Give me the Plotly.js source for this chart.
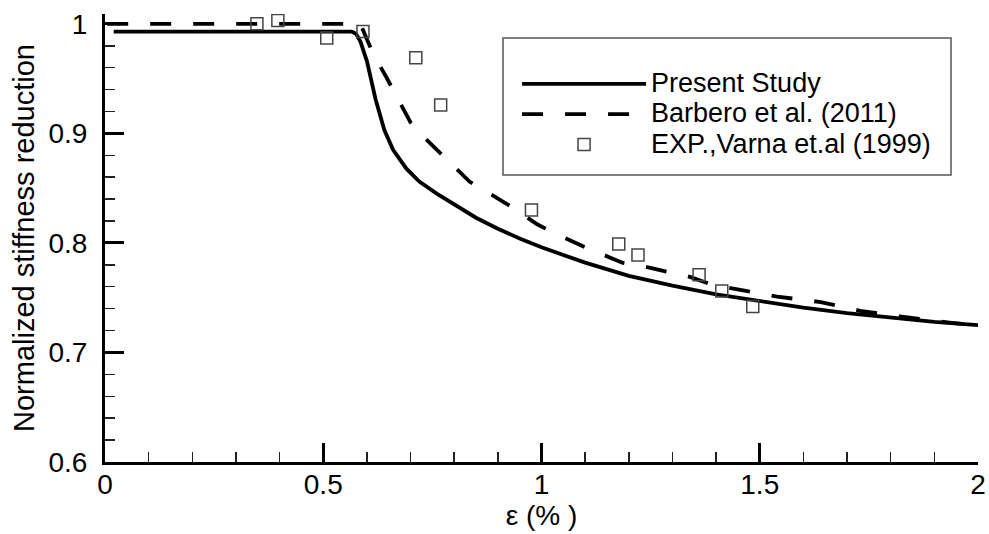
<!DOCTYPE html>
<html>
<head>
<meta charset="utf-8">
<script src="https://cdn.plot.ly/plotly-3.0.1.min.js"></script>
<style>
html,body{margin:0;padding:0;background:#fff;}
#chart{width:989px;height:534px;}
</style>
</head>
<body>
<div id="chart"></div>
<script>
// Present Study (solid)
const presentX = [0.02, 0.1, 0.2, 0.3, 0.4, 0.5, 0.565, 0.575, 0.585, 0.60, 0.62, 0.64, 0.66, 0.69, 0.72, 0.76, 0.80, 0.85, 0.90, 0.95, 1.0, 1.1, 1.2, 1.3, 1.4, 1.5, 1.6, 1.7, 1.8, 1.9, 2.0];
const presentY = [0.993, 0.993, 0.993, 0.993, 0.993, 0.993, 0.993, 0.991, 0.984, 0.966, 0.931, 0.903, 0.885, 0.868, 0.856, 0.845, 0.835, 0.823, 0.813, 0.804, 0.796, 0.782, 0.770, 0.761, 0.753, 0.747, 0.741, 0.736, 0.732, 0.728, 0.725];

// Barbero et al. (2011) (dashed)
const barberoX = [0.005, 0.1, 0.2, 0.3, 0.4, 0.5, 0.585, 0.60, 0.615, 0.645, 0.67, 0.70, 0.74, 0.79, 0.835, 0.89, 0.935, 0.99, 1.035, 1.095, 1.185, 1.23, 1.34, 1.39, 1.54, 1.64, 1.73, 1.82, 1.94, 2.0];
const barberoY = [1.0, 1.0, 1.0, 1.0, 1.0, 1.0, 1.0, 0.986, 0.972, 0.951, 0.933, 0.910, 0.893, 0.873, 0.856, 0.843, 0.832, 0.817, 0.808, 0.797, 0.782, 0.779, 0.769, 0.762, 0.751, 0.746, 0.738, 0.733, 0.727, 0.725];

// EXP., Varna et.al (1999) (open squares)
const expX = [0.348, 0.396, 0.508, 0.591, 0.712, 0.769, 0.977, 1.177, 1.221, 1.361, 1.413, 1.484];
const expY = [1.000, 1.003, 0.987, 0.993, 0.969, 0.926, 0.830, 0.799, 0.789, 0.771, 0.756, 0.742];

const seriesNames = ["Present Study", "Barbero et al. (2011)", "EXP.,Varna et.al (1999)"];

const xTickVals = [0, 0.5, 1, 1.5, 2];
const xTickText = ["0", "0.5", "1", "1.5", "2"];
const yTickVals = [0.6, 0.7, 0.8, 0.9, 1];
const yTickText = ["0.6", "0.7", "0.8", "0.9", "1"];

const FONT = "Liberation Sans, Arial, Helvetica, sans-serif";
const legendName = s => '<span style="font-size:27px">' + s + '</span>';

const traces = [
  {x: presentX, y: presentY, name: legendName(seriesNames[0]), type: "scatter", mode: "lines",
   line: {color: "#000", width: 3.8}},
  {x: barberoX, y: barberoY, name: legendName(seriesNames[1]), type: "scatter", mode: "lines",
   line: {color: "#000", width: 3.8, dash: "21px,22px"}},
  {x: expX, y: expY, name: legendName(seriesNames[2]), type: "scatter", mode: "markers",
   marker: {symbol: "square-open", size: 12, color: "#444", line: {width: 1.5, color: "#444"}}}
];

const layout = {
  width: 989, height: 534,
  margin: {l: 105, r: 11, t: 14, b: 72, pad: 0},
  paper_bgcolor: "#fff", plot_bgcolor: "#fff",
  font: {family: FONT, color: "#000", size: 26},
  showlegend: true,
  legend: {
    x: 0.472, y: 0.889, xanchor: "left", yanchor: "top",
    bgcolor: "rgba(0,0,0,0)", borderwidth: 0,
    font: {family: FONT, size: 21, color: "#000"},
    itemwidth: 124
  },
  shapes: [
    {type: "rect", xref: "paper", yref: "paper",
     x0: (503 - 105) / 873, x1: (951 - 105) / 873,
     y0: (462 - 175) / 448, y1: (462 - 38) / 448,
     line: {color: "#555", width: 1.5}, fillcolor: "rgba(0,0,0,0)", layer: "above"}
  ],
  xaxis: {
    range: [0, 2], tickvals: xTickVals, ticktext: xTickText,
    ticks: "inside", ticklen: 19, tickwidth: 3, tickcolor: "#000",
    showline: true, linewidth: 3, linecolor: "#000", mirror: false,
    showgrid: false, zeroline: false,
    tickfont: {family: FONT, size: 28, color: "#000"},
    ticklabelstandoff: -5,
    minor: {dtick: 0.1, tick0: 0, ticks: "inside", ticklen: 10, tickwidth: 1.5, tickcolor: "#222", showgrid: false},
    title: {text: "ε (% )", font: {family: FONT, size: 28, color: "#000"}, standoff: 0}
  },
  yaxis: {
    range: [0.6, 1.009], tickvals: yTickVals, ticktext: yTickText,
    ticks: "inside", ticklen: 19, tickwidth: 3, tickcolor: "#000",
    showline: true, linewidth: 3, linecolor: "#000", mirror: false,
    showgrid: false, zeroline: false,
    tickfont: {family: FONT, size: 28, color: "#000"},
    ticklabelstandoff: 9,
    minor: {dtick: 0.02, tick0: 0.6, ticks: "inside", ticklen: 10, tickwidth: 1.5, tickcolor: "#222", showgrid: false},
    title: {text: "Normalized stiffness reduction", font: {family: FONT, size: 29, color: "#000"}, standoff: 6}
  }
};

Plotly.newPlot("chart", traces, layout, {displayModeBar: false, staticPlot: true});
</script>
</body>
</html>
